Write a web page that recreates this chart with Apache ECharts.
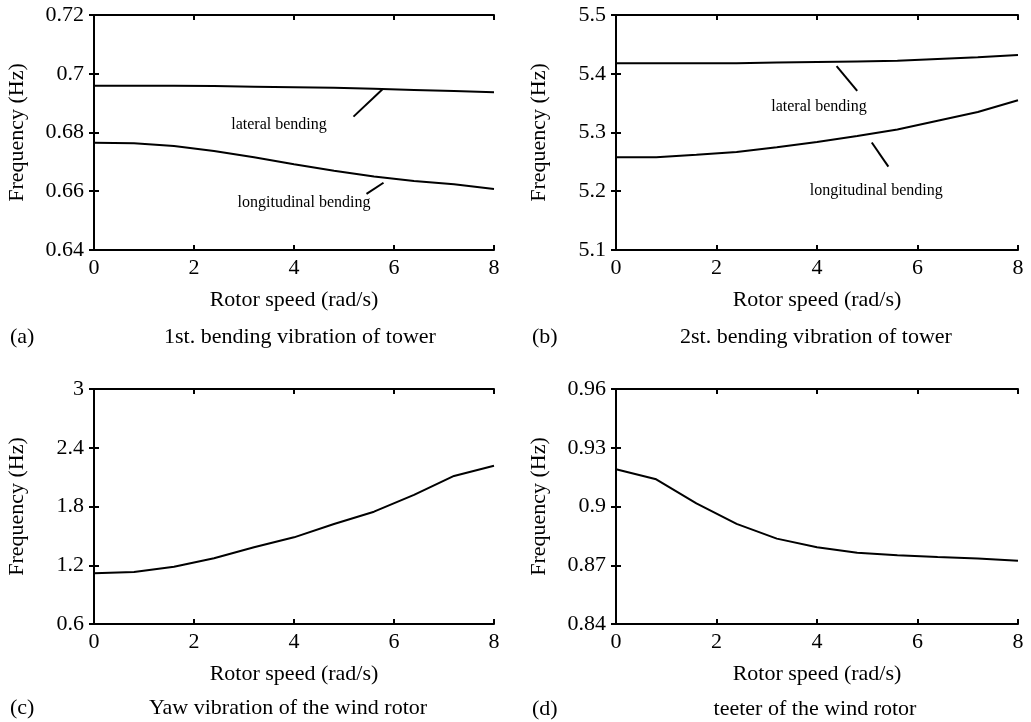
<!DOCTYPE html>
<html>
<head>
<meta charset="utf-8">
<script src="https://cdn.jsdelivr.net/npm/echarts@6/dist/echarts.min.js"></script>
<style>html,body{margin:0;padding:0;background:#fff}#c{width:1031px;height:722px}</style>
</head>
<body>
<div id="c"></div>
<script>
// ---- data ----
var speeds = [0, 0.8, 1.6, 2.4, 3.2, 4.0, 4.8, 5.6, 6.4, 7.2, 8.0];
var aLateral = [0.6959, 0.6959, 0.6959, 0.6958, 0.6956, 0.6954, 0.6952, 0.6949, 0.6945, 0.6941, 0.6937];
var aLongitudinal = [0.6765, 0.6763, 0.6754, 0.6737, 0.6716, 0.6692, 0.6670, 0.6650, 0.6635, 0.6624, 0.6608];
var bLateral = [5.418, 5.418, 5.418, 5.418, 5.419, 5.420, 5.421, 5.422, 5.425, 5.428, 5.432];
var bLongitudinal = [5.258, 5.258, 5.262, 5.267, 5.275, 5.284, 5.294, 5.305, 5.320, 5.335, 5.355];
var cYaw = [1.118, 1.131, 1.185, 1.271, 1.383, 1.485, 1.621, 1.747, 1.918, 2.112, 2.217];
var dTeeter = [0.919, 0.9139, 0.9016, 0.8911, 0.8836, 0.8792, 0.8764, 0.8751, 0.8742, 0.8735, 0.8723];

var xTicks = {min: 0, max: 8, interval: 2};
var yTicksA = {min: 0.64, max: 0.72, interval: 0.02};
var yTicksB = {min: 5.1, max: 5.5, interval: 0.1};
var yTicksC = {min: 0.6, max: 3.0, interval: 0.6};
var yTicksD = {min: 0.84, max: 0.96, interval: 0.03};

// annotation pointers [x, y]
var aLatPointer = [[5.19, 0.6854], [5.77, 0.6947]];
var aLongPointer = [[5.45, 0.6591], [5.79, 0.6629]];
var bLatPointer = [[4.39, 5.413], [4.80, 5.371]];
var bLongPointer = [[5.09, 5.283], [5.42, 5.242]];
// annotation labels [x, y, text]
var aLabels = [[3.7, 0.6826, 'lateral bending'], [4.2, 0.656, 'longitudinal bending']];
var bLabels = [[4.04, 5.344, 'lateral bending'], [5.18, 5.201, 'longitudinal bending']];

var xName = 'Rotor speed (rad/s)';
var yName = 'Frequency (Hz)';
var panelTags = ['(a)', '(b)', '(c)', '(d)'];
var panelTitles = ['1st. bending vibration of tower', '2st. bending vibration of tower', 'Yaw vibration of the wind rotor', 'teeter of the wind rotor'];

// ---- layout ----
var FONT = '"Liberation Serif", "Times New Roman", serif';
var grids = [
  {left: 94, top: 15, width: 400, height: 235},
  {left: 616, top: 15, width: 402, height: 235},
  {left: 94, top: 389, width: 400, height: 235},
  {left: 616, top: 389, width: 402, height: 235}
];
var yTicksAll = [yTicksA, yTicksB, yTicksC, yTicksD];

var lineStyleAxis = {color: '#000', width: 2};
var tickStyle = {color: '#000', width: 2};
var xAxes = [], yAxes = [];
grids.forEach(function (g, i) {
  xAxes.push({
    type: 'value', gridIndex: i, position: 'bottom', min: xTicks.min, max: xTicks.max, interval: xTicks.interval,
    name: xName, nameLocation: 'middle', nameGap: 39,
    nameTextStyle: {fontFamily: FONT, fontSize: 22, color: '#000'},
    axisLine: {show: true, lineStyle: lineStyleAxis},
    axisTick: {show: true, inside: true, length: 5, lineStyle: tickStyle},
    axisLabel: {fontFamily: FONT, fontSize: 22, color: '#000', margin: 7},
    splitLine: {show: false}
  });
  xAxes.push({
    type: 'value', gridIndex: i, position: 'top', min: xTicks.min, max: xTicks.max, interval: xTicks.interval,
    axisLine: {show: true, lineStyle: lineStyleAxis},
    axisTick: {show: true, inside: true, length: 5, lineStyle: tickStyle},
    axisLabel: {show: false}, splitLine: {show: false}
  });
  var yt = yTicksAll[i];
  yAxes.push({
    type: 'value', gridIndex: i, position: 'left', min: yt.min, max: yt.max, interval: yt.interval,
    name: yName, nameLocation: 'middle', nameGap: 66, nameRotate: 90,
    nameTextStyle: {fontFamily: FONT, fontSize: 22, color: '#000'},
    axisLine: {show: true, lineStyle: lineStyleAxis},
    axisTick: {show: true, inside: true, length: 5, lineStyle: tickStyle},
    axisLabel: {fontFamily: FONT, fontSize: 22, color: '#000', margin: 10},
    splitLine: {show: false}
  });
  yAxes.push({
    type: 'value', gridIndex: i, position: 'right', min: yt.min, max: yt.max, interval: yt.interval,
    axisLine: {show: true, lineStyle: lineStyleAxis},
    axisTick: {show: true, inside: true, length: 5, lineStyle: tickStyle},
    axisLabel: {show: false}, splitLine: {show: false}
  });
});

function zip(xs, ys) { return xs.map(function (x, k) { return [x, ys[k]]; }); }
function curve(i, ys) {
  return {type: 'line', xAxisIndex: 2 * i, yAxisIndex: 2 * i, data: zip(speeds, ys),
    showSymbol: false, symbol: 'none', silent: true, animation: false,
    lineStyle: {color: '#000', width: 2}};
}
function pointer(i, pts) {
  return {type: 'line', xAxisIndex: 2 * i, yAxisIndex: 2 * i, data: pts,
    showSymbol: false, symbol: 'none', silent: true, animation: false,
    lineStyle: {color: '#000', width: 2}};
}
function labels(i, arr) {
  return {type: 'scatter', xAxisIndex: 2 * i, yAxisIndex: 2 * i, symbolSize: 0, silent: true, animation: false,
    itemStyle: {opacity: 1, color: '#000'},
    data: arr.map(function (d) { return {value: [d[0], d[1]], name: d[2]}; }),
    label: {show: true, position: 'inside', formatter: '{b}', fontFamily: FONT, fontSize: 16, color: '#000',
      opacity: 1, textBorderWidth: 0}};
}

var series = [
  curve(0, aLateral), curve(0, aLongitudinal), pointer(0, aLatPointer), pointer(0, aLongPointer), labels(0, aLabels),
  curve(1, bLateral), curve(1, bLongitudinal), pointer(1, bLatPointer), pointer(1, bLongPointer), labels(1, bLabels),
  curve(2, cYaw),
  curve(3, dTeeter)
];

var tagPos = [[10, 337], [532, 337], [10, 708], [532, 709]];
var titlePos = [[300, 337], [816, 337], [288, 708], [815, 709]];
var graphics = [];
for (var i = 0; i < 4; i++) {
  graphics.push({type: 'text', x: tagPos[i][0], y: tagPos[i][1],
    style: {text: panelTags[i], font: '22px ' + FONT, fill: '#000', textAlign: 'left', textVerticalAlign: 'middle'}});
  graphics.push({type: 'text', x: titlePos[i][0], y: titlePos[i][1],
    style: {text: panelTitles[i], font: '22px ' + FONT, fill: '#000', textAlign: 'center', textVerticalAlign: 'middle'}});
}

var chart = echarts.init(document.getElementById('c'), null, {renderer: 'canvas'});
chart.setOption({
  animation: false,
  backgroundColor: '#fff',
  grid: grids,
  xAxis: xAxes,
  yAxis: yAxes,
  series: series,
  graphic: graphics
});
</script>
</body>
</html>
